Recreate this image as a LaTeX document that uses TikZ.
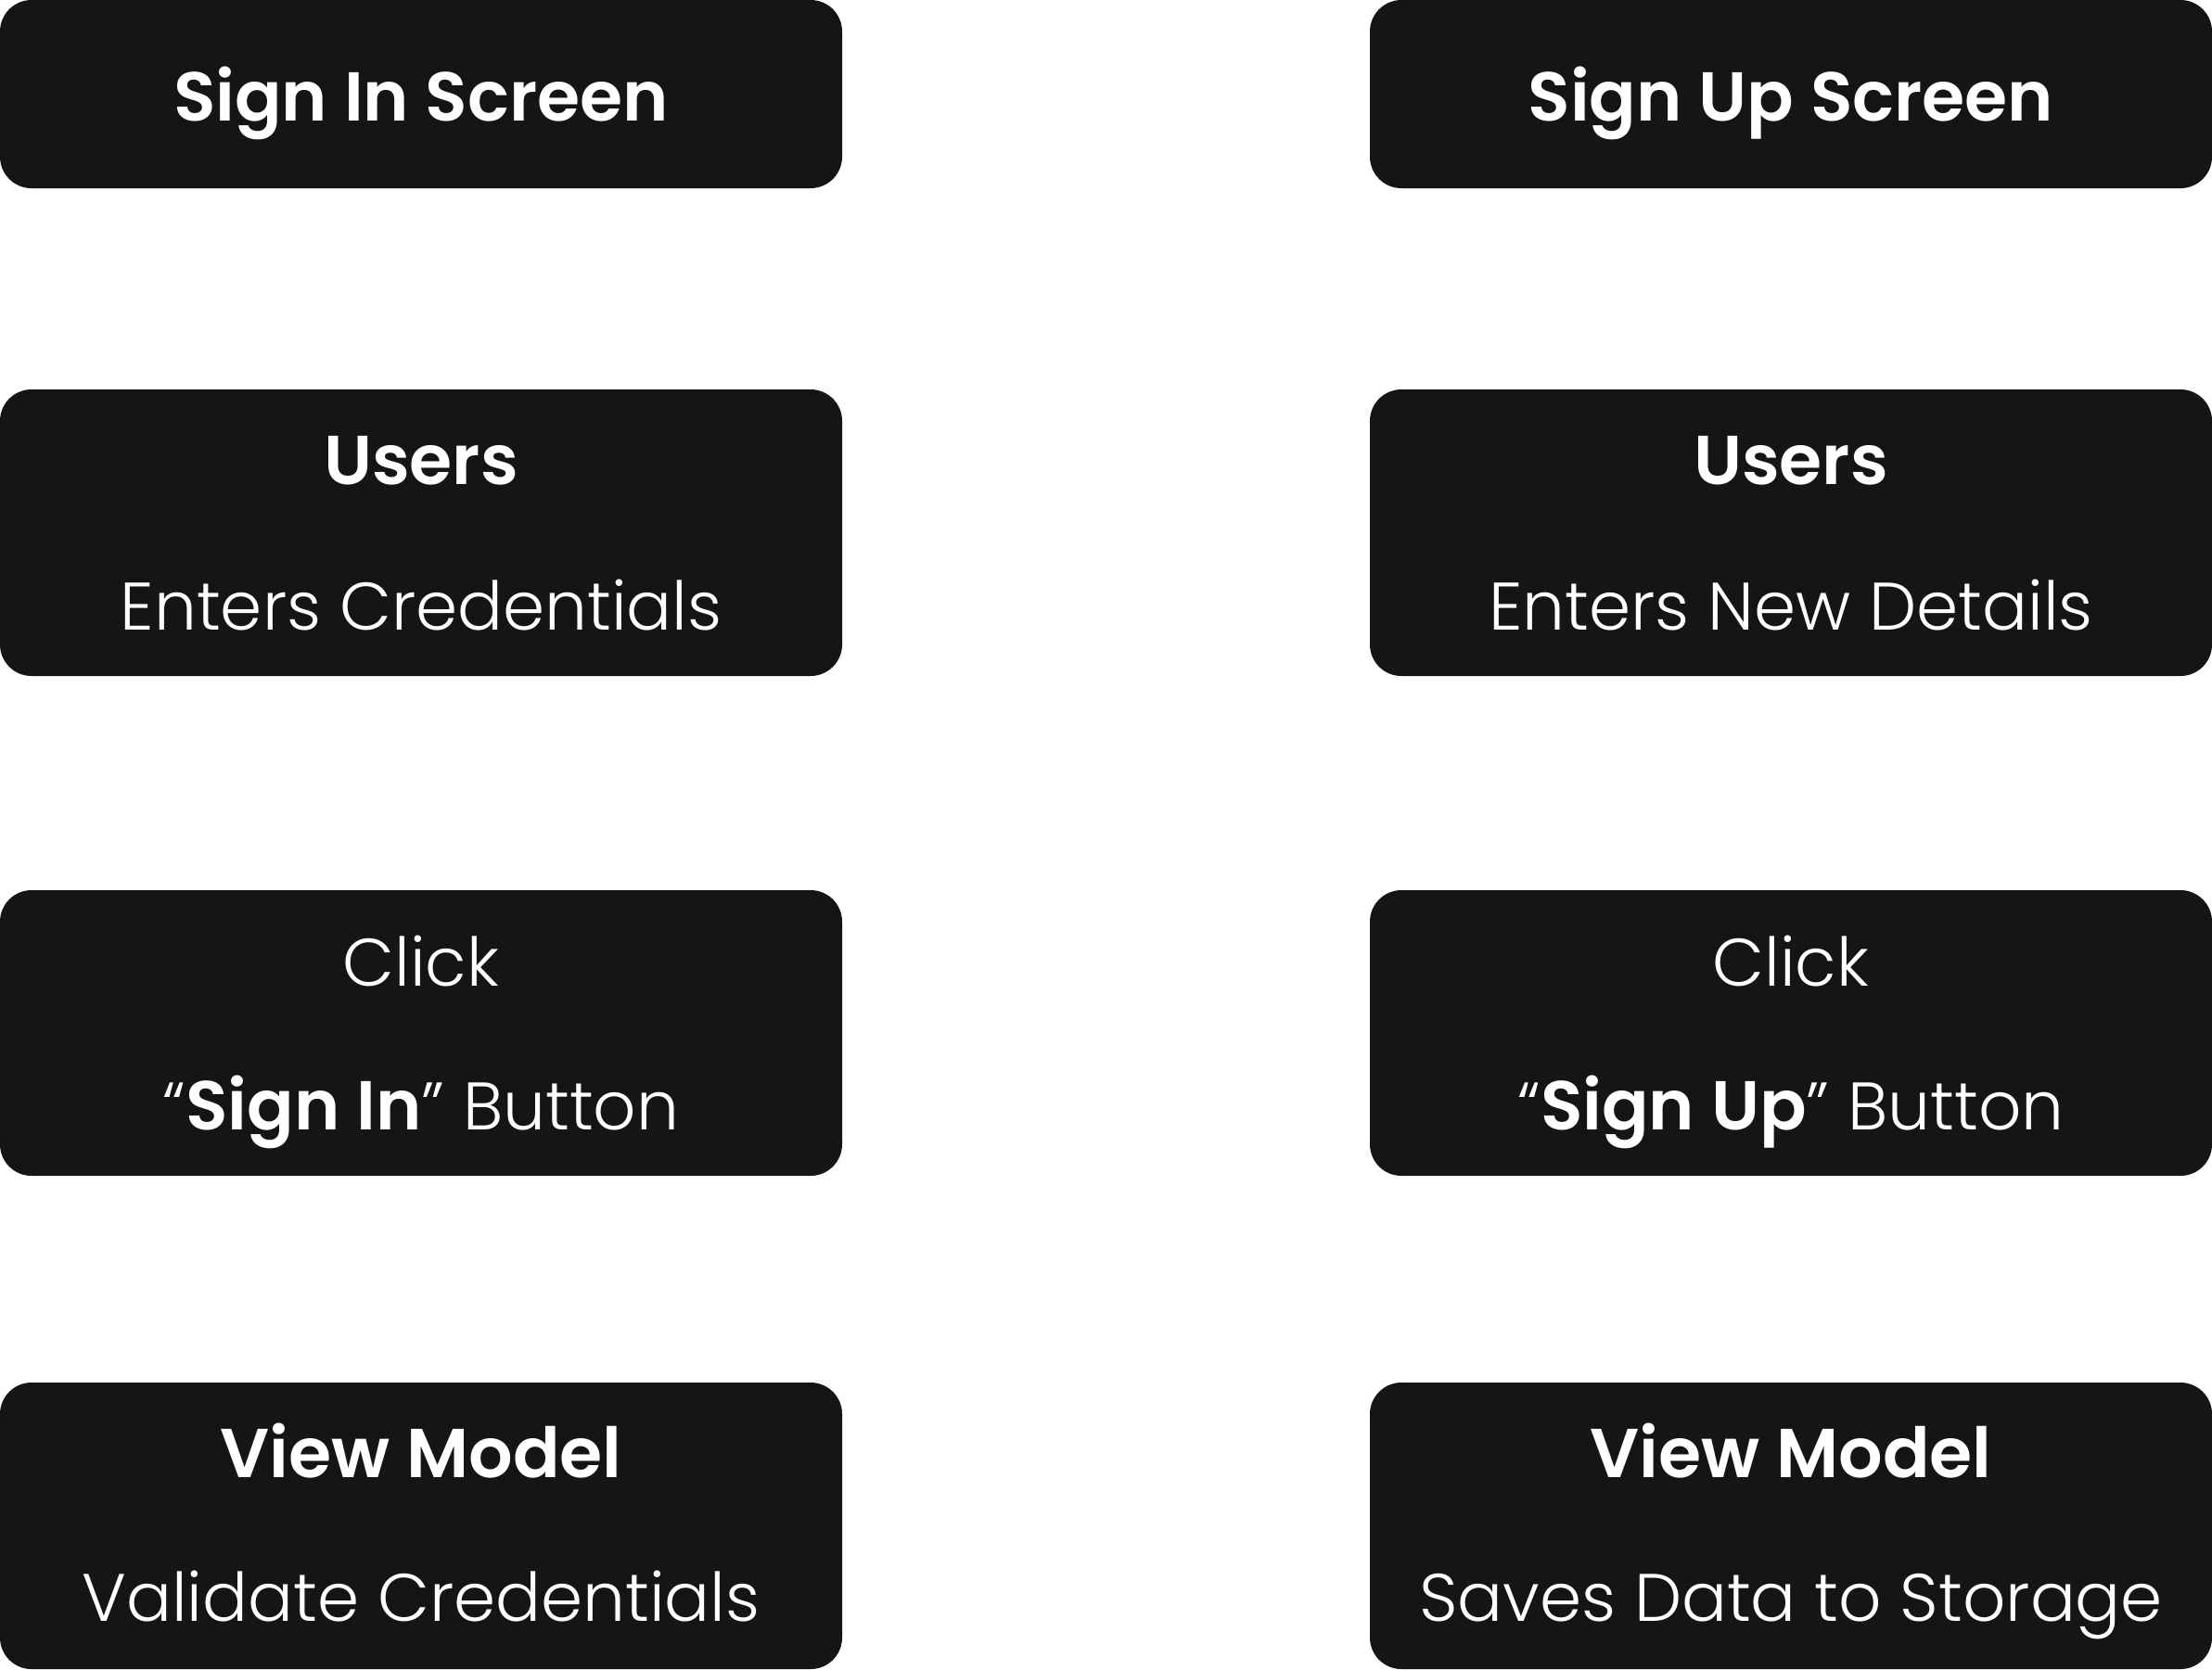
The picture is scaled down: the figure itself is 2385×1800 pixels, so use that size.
\documentclass[tikz,border=0pt]{standalone}
\usepackage{fontspec}
\setmainfont{Poppins}[UprightFont={* Light},BoldFont={* SemiBold},BoldFeatures={Scale=1.03}]
\definecolor{boxfill}{HTML}{151515}
\begin{document}
\begin{tikzpicture}[x=1pt,y=-1pt,
  card/.style={fill=boxfill,draw=none,rounded corners=34pt,minimum width=908pt,inner sep=0pt,outer sep=0pt},
  txt/.style={text=white,anchor=base,inner sep=0pt,font=\fontsize{72.5}{90}\selectfont}]
\useasboundingbox (0,0) rectangle (2385,1800);
% row 1
\node[card,minimum height=203pt] (b1l) at (454,101.5) {};
\node[card,minimum height=203pt] (b1r) at (1931,101.5) {};
% row 2
\node[card,minimum height=309pt] (b2l) at (454,574.5) {};
\node[card,minimum height=309pt] (b2r) at (1931,574.5) {};
% row 3
\node[card,minimum height=308pt] (b3l) at (454,1114) {};
\node[card,minimum height=308pt] (b3r) at (1931,1114) {};
% row 4
\node[card,minimum height=309pt] (b4l) at (454,1645.5) {};
\node[card,minimum height=309pt] (b4r) at (1931,1645.5) {};
% texts
\node[txt] (t1l) at ([yshift=-29pt]b1l.center) {\bfseries Sign In Screen};
\node[txt] (t1r) at ([yshift=-29pt]b1r.center) {\bfseries Sign Up Screen};
\node[txt] (t2la) at ([yshift=52pt]b2l.center) {\bfseries Users};
\node[txt] (t2lb) at ([yshift=-105pt]b2l.center) {Enters Credentials};
\node[txt] (t2ra) at ([yshift=52pt]b2r.center) {\bfseries Users};
\node[txt] (t2rb) at ([yshift=-105pt]b2r.center) {Enters New Details};
\node[txt] (t3la) at ([yshift=51pt]b3l.center) {Click};
\node[txt] (t3lb) at ([yshift=-104pt]b3l.center) {“\textbf{Sign In}” Button};
\node[txt] (t3ra) at ([yshift=51pt]b3r.center) {Click};
\node[txt] (t3rb) at ([yshift=-104pt]b3r.center) {“\textbf{Sign Up}” Button};
\node[txt] (t4la) at ([yshift=52pt]b4l.center) {\bfseries View Model};
\node[txt] (t4lb) at ([yshift=-103pt]b4l.center) {Validate Credentials};
\node[txt] (t4ra) at ([yshift=52pt]b4r.center) {\bfseries View Model};
\node[txt] (t4rb) at ([yshift=-103pt]b4r.center) {Saves Data to Storage};
\end{tikzpicture}
\end{document}
